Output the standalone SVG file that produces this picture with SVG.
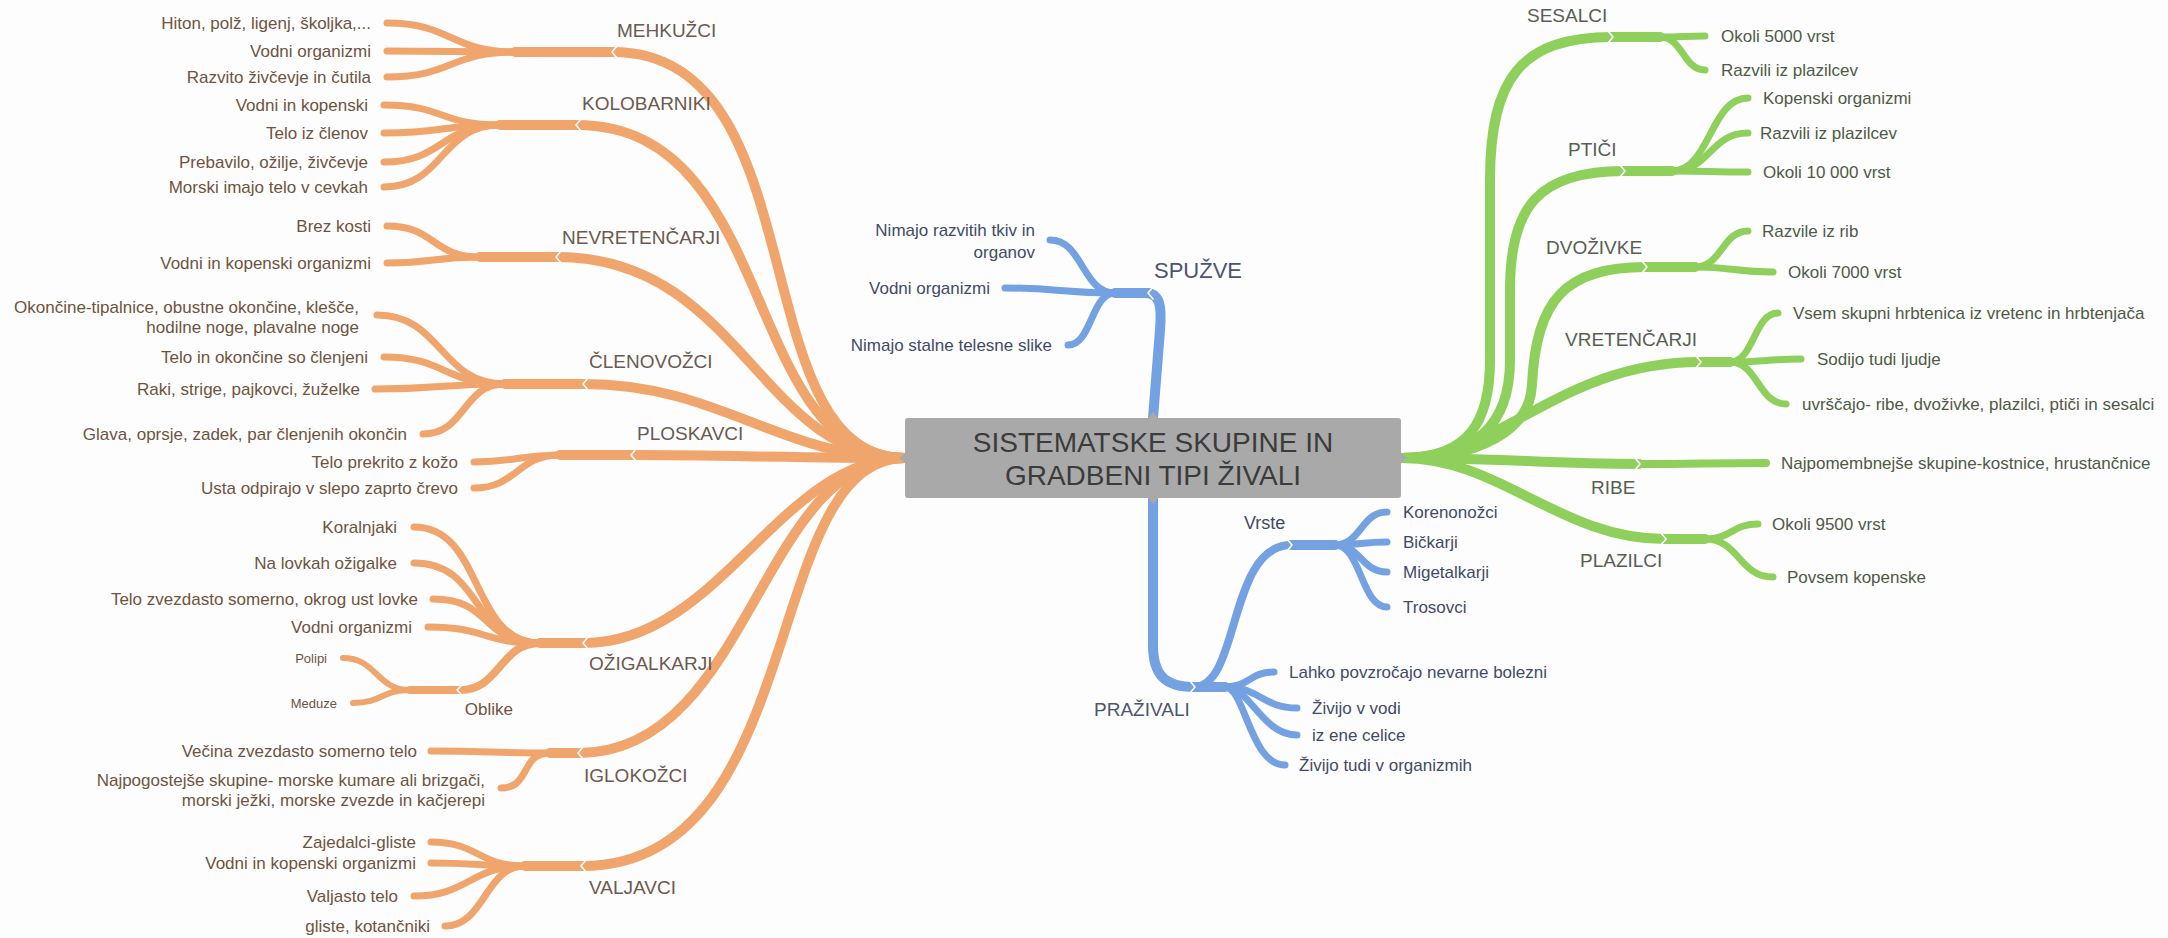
<svg xmlns="http://www.w3.org/2000/svg" width="2168" height="938" viewBox="0 0 2168 938">
<style>
.c{fill:none;stroke-linecap:round;stroke-linejoin:round}
.o{stroke:#f0a56c}
.b{stroke:#74a1e2}
.g{stroke:#8fd05c}
.w10{stroke-width:10}
.w8{stroke-width:8}
.w7{stroke-width:7}
.w6{stroke-width:6}
.n{fill:none;stroke:#fdfdfd;stroke-width:1.6;stroke-linecap:round;stroke-linejoin:round}
text{font-family:"Liberation Sans",Arial,sans-serif;dominant-baseline:central}
.to{font-size:17px;fill:#6e5440;text-anchor:end}
.ts{font-size:13px;fill:#6e5440;text-anchor:end}
.lo{font-size:19px;fill:#6a5a50}
.tb{font-size:17px;fill:#3f4b66}
.tbe{font-size:17px;fill:#3f4b66;text-anchor:end}
.lb{font-size:19px;fill:#4a5670}
.tg{font-size:17px;fill:#4e5a46}
.lg{font-size:19px;fill:#566052}
.title{font-size:28px;fill:#3b3b3b;text-anchor:middle}
</style>
<rect width="2168" height="938" fill="#fdfdfd"/>
<g id="connectors">
<!-- orange main branches -->
<path class="c o w10" d="M905 458 C740 458 820 52 613 52"/>
<path class="c o w10" d="M905 458 C740 458 780 125 577 125"/>
<path class="c o w10" d="M905 458 C760 458 740 257 557 257"/>
<path class="c o w10" d="M905 458 C780 458 720 384 584 384"/>
<path class="c o w10" d="M905 458 C800 458 720 455 632 455"/>
<path class="c o w10" d="M905 458 C780 458 720 643 584 643"/>
<path class="c o w10" d="M905 458 C760 458 750 753 579 753"/>
<path class="c o w10" d="M905 458 C760 458 810 866 582 866"/>
<!-- MEHKUZCI leaves -->
<path class="c o w10" d="M613 52 H515"/>
<path class="c o w7" d="M515 52 C450 52 452 23 387 23"/>
<path class="c o w7" d="M515 52 C450 52 452 51 387 51"/>
<path class="c o w7" d="M515 52 C450 52 452 77 387 77"/>
<!-- KOLOBARNIKI leaves -->
<path class="c o w10" d="M577 125 H500"/>
<path class="c o w7" d="M500 125 C440 125 444 105 384 105"/>
<path class="c o w7" d="M500 125 C440 125 444 133 384 133"/>
<path class="c o w7" d="M500 125 C440 125 444 162 384 162"/>
<path class="c o w7" d="M500 125 C440 125 444 187 384 187"/>
<!-- NEVRETENCARJI leaves -->
<path class="c o w10" d="M557 257 H480"/>
<path class="c o w7" d="M480 257 C432 257 435 226 387 226"/>
<path class="c o w7" d="M480 257 C432 257 435 263 387 263"/>
<!-- CLENONOZCI leaves -->
<path class="c o w10" d="M584 384 H505"/>
<path class="c o w7" d="M505 384 C440 384 442 315 377 315"/>
<path class="c o w7" d="M505 384 C444 384 445 357 384 357"/>
<path class="c o w7" d="M505 384 C440 384 440 389 375 389"/>
<path class="c o w7" d="M505 384 C462 384 466 434 423 434"/>
<!-- PLOSKAVCI leaves -->
<path class="c o w10" d="M632 455 H560"/>
<path class="c o w7" d="M560 455 C517 455 517 462 474 462"/>
<path class="c o w7" d="M560 455 C517 455 517 488 474 488"/>
<!-- OZIGALKARJI leaves -->
<path class="c o w10" d="M584 643 H540"/>
<path class="c o w7" d="M540 643 C470 643 484 527 414 527"/>
<path class="c o w7" d="M540 643 C470 643 484 563 414 563"/>
<path class="c o w7" d="M540 643 C480 643 493 599 433 599"/>
<path class="c o w7" d="M540 643 C480 643 488 627 428 627"/>
<path class="c o w8" d="M540 643 C500 643 500 690 460 690"/>
<path class="c o w8" d="M460 690 H410"/>
<path class="c o w6" d="M410 690 C376 690 377 658 343 658"/>
<path class="c o w6" d="M410 690 C380 690 383 703 353 703"/>
<!-- IGLOKOZCI leaves -->
<path class="c o w10" d="M579 753 H550"/>
<path class="c o w7" d="M550 753 C490 753 491 751 431 751"/>
<path class="c o w7" d="M550 753 C520 753 531 788 501 788"/>
<!-- VALJAVCI leaves -->
<path class="c o w10" d="M582 866 H525"/>
<path class="c o w7" d="M525 866 C478 866 478 842 431 842"/>
<path class="c o w7" d="M525 866 C478 866 478 863 431 863"/>
<path class="c o w7" d="M525 866 C470 866 469 896 414 896"/>
<path class="c o w7" d="M525 866 C485 866 485 926 445 926"/>
<!-- green main branches -->
<path class="c g w10" d="M1402 458 C1470 458 1490 420 1490 360 L1490 180 C1490 80 1520 37 1612 37"/>
<path class="c g w10" d="M1402 458 C1475 458 1510 425 1510 360 L1510 290 C1510 205 1540 171 1624 171"/>
<path class="c g w10" d="M1402 458 C1480 458 1530 430 1532 385 C1536 300 1565 267 1646 267"/>
<path class="c g w10" d="M1402 458 C1500 458 1560 362 1700 362"/>
<path class="c g w10" d="M1402 458 C1500 458 1550 464 1639 464"/>
<path class="c g w10" d="M1402 458 C1500 458 1560 539 1665 539"/>
<!-- green leaves -->
<path class="c g w10" d="M1612 37 H1660"/>
<path class="c g w7" d="M1660 37 C1683 37 1683 36 1705 36"/>
<path class="c g w7" d="M1660 37 C1683 37 1683 70 1705 70"/>
<path class="c g w10" d="M1624 171 H1672"/>
<path class="c g w7" d="M1672 171 C1710 171 1710 98 1748 98"/>
<path class="c g w7" d="M1672 171 C1710 171 1710 133 1748 133"/>
<path class="c g w7" d="M1672 171 C1710 171 1710 172 1748 172"/>
<path class="c g w10" d="M1646 267 H1695"/>
<path class="c g w7" d="M1695 267 C1722 267 1722 231 1748 231"/>
<path class="c g w7" d="M1695 267 C1734 267 1734 272 1773 272"/>
<path class="c g w10" d="M1700 362 H1730"/>
<path class="c g w7" d="M1730 362 C1754 362 1754 313 1778 313"/>
<path class="c g w7" d="M1730 362 C1766 362 1766 359 1801 359"/>
<path class="c g w7" d="M1730 362 C1758 362 1758 404 1786 404"/>
<path class="c g w8" d="M1639 464 C1700 464 1705 463 1766 463"/>
<path class="c g w10" d="M1665 539 H1705"/>
<path class="c g w7" d="M1705 539 C1732 539 1732 524 1758 524"/>
<path class="c g w7" d="M1705 539 C1739 539 1739 577 1773 577"/>
<!-- blue SPUZVE -->
<path class="c b w10" d="M1153 418 L1160 330 C1162 305 1160 293 1145 293"/>
<path class="c b w10" d="M1149 293 H1115"/>
<path class="c b w7" d="M1115 293 C1082 293 1083 240 1050 240"/>
<path class="c b w7" d="M1115 293 C1060 293 1060 288 1005 288"/>
<path class="c b w7" d="M1115 293 C1091 293 1092 345 1068 345"/>
<!-- blue PRAZIVALI -->
<path class="c b w10" d="M1153 498 L1153 645 C1153 675 1165 687 1194 687"/>
<path class="c b w8" d="M1194 687 C1240 687 1228 545 1291 545"/>
<path class="c b w10" d="M1291 545 H1335"/>
<path class="c b w7" d="M1335 545 C1361 545 1361 512 1387 512"/>
<path class="c b w7" d="M1335 545 C1361 545 1361 542 1387 542"/>
<path class="c b w7" d="M1335 545 C1361 545 1361 572 1387 572"/>
<path class="c b w7" d="M1335 545 C1361 545 1361 607 1387 607"/>
<path class="c b w10" d="M1194 687 H1225"/>
<path class="c b w7" d="M1225 687 C1250 687 1249 672 1274 672"/>
<path class="c b w7" d="M1225 687 C1260 687 1262 708 1297 708"/>
<path class="c b w7" d="M1225 687 C1250 687 1262 735 1297 735"/>
<path class="c b w7" d="M1225 687 C1245 687 1250 765 1285 765"/>
<!-- seams at hubs -->
<polyline class="n" points="617,46 612,52 617,58"/>
<polyline class="n" points="581,119 576,125 581,131"/>
<polyline class="n" points="561,251 556,257 561,263"/>
<polyline class="n" points="588,378 583,384 588,390"/>
<polyline class="n" points="636,449 631,455 636,461"/>
<polyline class="n" points="588,637 583,643 588,649"/>
<polyline class="n" points="583,747 578,753 583,759"/>
<polyline class="n" points="586,860 581,866 586,872"/>
<polyline class="n" points="462,685 457,690 462,695"/>
<polyline class="n" points="1153,287 1148,293 1153,299"/>
<polyline class="n" points="1608,31 1613,37 1608,43"/>
<polyline class="n" points="1620,165 1625,171 1620,177"/>
<polyline class="n" points="1642,261 1647,267 1642,273"/>
<polyline class="n" points="1696,356 1701,362 1696,368"/>
<polyline class="n" points="1635,458 1640,464 1635,470"/>
<polyline class="n" points="1661,533 1666,539 1661,545"/>
<polyline class="n" points="1287,539 1292,545 1287,551"/>
<polyline class="n" points="1190,681 1195,687 1190,693"/>
</g>
<g id="root">
<rect x="905" y="418" width="496" height="80" rx="3" fill="#a9a9a9"/>
<polygon points="899,458 906,452 906,464" fill="#a9a9a9"/>
<polygon points="1407,458 1400,452 1400,464" fill="#a9a9a9"/>
<polygon points="1153,412 1147,419 1159,419" fill="#a9a9a9"/>
<polygon points="1153,504 1147,497 1159,497" fill="#a9a9a9"/>
<text class="title" x="1153" y="442">SISTEMATSKE SKUPINE IN</text>
<text class="title" x="1153" y="475">GRADBENI TIPI ŽIVALI</text>
</g>
<g id="mehkuzci"><text class="lo" x="617" y="30">MEHKUŽCI</text></g>
<g id="mehkuzci-1"><text class="to" x="371" y="23">Hiton, polž, ligenj, školjka,...</text></g>
<g id="mehkuzci-2"><text class="to" x="371" y="51">Vodni organizmi</text></g>
<g id="mehkuzci-3"><text class="to" x="371" y="77">Razvito živčevje in čutila</text></g>
<g id="kolobarniki"><text class="lo" x="582" y="103">KOLOBARNIKI</text></g>
<g id="kolobarniki-1"><text class="to" x="368" y="105">Vodni in kopenski</text></g>
<g id="kolobarniki-2"><text class="to" x="368" y="133">Telo iz členov</text></g>
<g id="kolobarniki-3"><text class="to" x="368" y="162">Prebavilo, ožilje, živčevje</text></g>
<g id="kolobarniki-4"><text class="to" x="368" y="187">Morski imajo telo v cevkah</text></g>
<g id="nevretencarji"><text class="lo" x="562" y="237">NEVRETENČARJI</text></g>
<g id="nevretencarji-1"><text class="to" x="371" y="226">Brez kosti</text></g>
<g id="nevretencarji-2"><text class="to" x="371" y="263">Vodni in kopenski organizmi</text></g>
<g id="clenonozci"><text class="lo" x="589" y="361">ČLENOVOŽCI</text></g>
<g id="clenonozci-1"><text class="to" x="359" y="307">Okončine-tipalnice, obustne okončine, klešče,</text><text class="to" x="359" y="327">hodilne noge, plavalne noge</text></g>
<g id="clenonozci-2"><text class="to" x="368" y="357">Telo in okončine so členjeni</text></g>
<g id="clenonozci-3"><text class="to" x="360" y="389">Raki, strige, pajkovci, žuželke</text></g>
<g id="clenonozci-4"><text class="to" x="407" y="434">Glava, oprsje, zadek, par členjenih okončin</text></g>
<g id="ploskavci"><text class="lo" x="637" y="433">PLOSKAVCI</text></g>
<g id="ploskavci-1"><text class="to" x="458" y="462">Telo prekrito z kožo</text></g>
<g id="ploskavci-2"><text class="to" x="458" y="488">Usta odpirajo v slepo zaprto črevo</text></g>
<g id="ozigalkarji"><text class="lo" x="589" y="663">OŽIGALKARJI</text></g>
<g id="ozigalkarji-1"><text class="to" x="397" y="527">Koralnjaki</text></g>
<g id="ozigalkarji-2"><text class="to" x="397" y="563">Na lovkah ožigalke</text></g>
<g id="ozigalkarji-3"><text class="to" x="418" y="599">Telo zvezdasto somerno, okrog ust lovke</text></g>
<g id="ozigalkarji-4"><text class="to" x="412" y="627">Vodni organizmi</text></g>
<g id="oblike"><text class="to" x="513" y="709">Oblike</text></g>
<g id="oblike-1"><text class="ts" x="327" y="658">Polipi</text></g>
<g id="oblike-2"><text class="ts" x="337" y="703">Meduze</text></g>
<g id="iglokozci"><text class="lo" x="584" y="775">IGLOKOŽCI</text></g>
<g id="iglokozci-1"><text class="to" x="417" y="751">Večina zvezdasto somerno telo</text></g>
<g id="iglokozci-2"><text class="to" x="485" y="780">Najpogostejše skupine- morske kumare ali brizgači,</text><text class="to" x="485" y="800">morski ježki, morske zvezde in kačjerepi</text></g>
<g id="valjavci"><text class="lo" x="589" y="887">VALJAVCI</text></g>
<g id="valjavci-1"><text class="to" x="416" y="842">Zajedalci-gliste</text></g>
<g id="valjavci-2"><text class="to" x="416" y="863">Vodni in kopenski organizmi</text></g>
<g id="valjavci-3"><text class="to" x="398" y="896">Valjasto telo</text></g>
<g id="valjavci-4"><text class="to" x="430" y="926">gliste, kotančniki</text></g>
<g id="spuzve"><text class="lb" x="1154" y="270" style="font-size:22px">SPUŽVE</text></g>
<g id="spuzve-1"><text class="tbe" x="1035" y="230">Nimajo razvitih tkiv in</text><text class="tbe" x="1035" y="252">organov</text></g>
<g id="spuzve-2"><text class="tbe" x="990" y="288">Vodni organizmi</text></g>
<g id="spuzve-3"><text class="tbe" x="1052" y="345">Nimajo stalne telesne slike</text></g>
<g id="prazivali"><text class="lb" x="1094" y="709">PRAŽIVALI</text></g>
<g id="vrste"><text class="tb" x="1244" y="523" style="font-size:18px">Vrste</text></g>
<g id="vrste-1"><text class="tb" x="1403" y="512">Korenonožci</text></g>
<g id="vrste-2"><text class="tb" x="1403" y="542">Bičkarji</text></g>
<g id="vrste-3"><text class="tb" x="1403" y="572">Migetalkarji</text></g>
<g id="vrste-4"><text class="tb" x="1403" y="607">Trosovci</text></g>
<g id="prazivali-1"><text class="tb" x="1289" y="672">Lahko povzročajo nevarne bolezni</text></g>
<g id="prazivali-2"><text class="tb" x="1312" y="708">Živijo v vodi</text></g>
<g id="prazivali-3"><text class="tb" x="1312" y="735">iz ene celice</text></g>
<g id="prazivali-4"><text class="tb" x="1299" y="765">Živijo tudi v organizmih</text></g>
<g id="sesalci"><text class="lg" x="1527" y="15">SESALCI</text></g>
<g id="sesalci-1"><text class="tg" x="1721" y="36">Okoli 5000 vrst</text></g>
<g id="sesalci-2"><text class="tg" x="1721" y="70">Razvili iz plazilcev</text></g>
<g id="ptici"><text class="lg" x="1568" y="149">PTIČI</text></g>
<g id="ptici-1"><text class="tg" x="1763" y="98">Kopenski organizmi</text></g>
<g id="ptici-2"><text class="tg" x="1760" y="133">Razvili iz plazilcev</text></g>
<g id="ptici-3"><text class="tg" x="1763" y="172">Okoli 10 000 vrst</text></g>
<g id="dvozivke"><text class="lg" x="1546" y="247">DVOŽIVKE</text></g>
<g id="dvozivke-1"><text class="tg" x="1762" y="231">Razvile iz rib</text></g>
<g id="dvozivke-2"><text class="tg" x="1788" y="272">Okoli 7000 vrst</text></g>
<g id="vretencarji"><text class="lg" x="1565" y="339">VRETENČARJI</text></g>
<g id="vretencarji-1"><text class="tg" x="1793" y="313">Vsem skupni hrbtenica iz vretenc in hrbtenjača</text></g>
<g id="vretencarji-2"><text class="tg" x="1817" y="359">Sodijo tudi ljudje</text></g>
<g id="vretencarji-3"><text class="tg" x="1802" y="404">uvrščajo- ribe, dvoživke, plazilci, ptiči in sesalci</text></g>
<g id="ribe"><text class="lg" x="1591" y="487">RIBE</text></g>
<g id="ribe-1"><text class="tg" x="1781" y="463">Najpomembnejše skupine-kostnice, hrustančnice</text></g>
<g id="plazilci"><text class="lg" x="1580" y="560">PLAZILCI</text></g>
<g id="plazilci-1"><text class="tg" x="1772" y="524">Okoli 9500 vrst</text></g>
<g id="plazilci-2"><text class="tg" x="1787" y="577">Povsem kopenske</text></g>
</svg>
